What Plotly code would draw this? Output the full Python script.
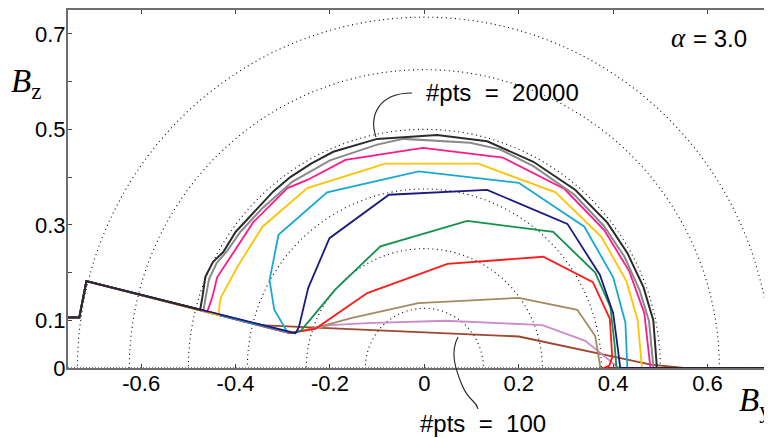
import plotly.graph_objects as go

# ---------------- data ----------------
common_x = [-0.760, -0.731, -0.716]
common_y = [0.106, 0.106, 0.182]

black_x = [-0.475, -0.470, -0.464, -0.448, -0.426, -0.400, -0.354, -0.320, -0.284, -0.240, -0.193, -0.100, 0.027, 0.133, 0.231, 0.320, 0.388, 0.430, 0.464, 0.485, 0.492, 0.492, 0.760]
black_y = [0.122, 0.150, 0.191, 0.222, 0.243, 0.285, 0.335, 0.370, 0.400, 0.428, 0.453, 0.480, 0.488, 0.475, 0.432, 0.373, 0.304, 0.241, 0.170, 0.100, 0.010, 0.000, 0.000]

gray_x = [-0.468, -0.463, -0.456, -0.440, -0.418, -0.390, -0.345, -0.280, -0.200, -0.100, -0.044, 0.097, 0.160, 0.231, 0.318, 0.380, 0.424, 0.456, 0.476, 0.484, 0.485, 0.760]
gray_y = [0.120, 0.150, 0.187, 0.220, 0.245, 0.285, 0.333, 0.390, 0.435, 0.468, 0.480, 0.472, 0.458, 0.423, 0.363, 0.298, 0.233, 0.163, 0.098, 0.015, 0.000, 0.000]

magenta_x = [-0.460, -0.452, -0.447, -0.439, -0.405, -0.362, -0.290, -0.248, -0.167, -0.003, 0.166, 0.297, 0.381, 0.434, 0.466, 0.478, 0.479, 0.760]
magenta_y = [0.118, 0.140, 0.157, 0.190, 0.241, 0.306, 0.377, 0.394, 0.436, 0.461, 0.441, 0.375, 0.289, 0.203, 0.115, 0.017, 0.000, 0.000]

yellow_x = [-0.436, -0.434, -0.431, -0.396, -0.343, -0.248, -0.136, -0.083, 0.114, 0.278, 0.375, 0.428, 0.452, 0.460, 0.461, 0.760]
yellow_y = [0.111, 0.132, 0.148, 0.212, 0.296, 0.377, 0.411, 0.428, 0.428, 0.368, 0.275, 0.182, 0.100, 0.020, 0.000, 0.000]

cyan_x = [-0.290, -0.318, -0.328, -0.309, -0.206, -0.012, 0.200, 0.339, 0.400, 0.426, 0.430, 0.430, 0.760]
cyan_y = [0.075, 0.122, 0.184, 0.279, 0.368, 0.412, 0.388, 0.296, 0.190, 0.095, 0.010, 0.000, 0.000]

navy_x = [-0.273, -0.266, -0.246, -0.201, -0.075, 0.133, 0.303, 0.372, 0.400, 0.410, 0.415, 0.760]
navy_y = [0.073, 0.085, 0.168, 0.272, 0.363, 0.373, 0.302, 0.195, 0.115, 0.040, 0.000, 0.000]

green_x = [-0.278, -0.262, -0.248, -0.189, -0.093, 0.091, 0.273, 0.362, 0.394, 0.403, 0.407, 0.760]
green_y = [0.073, 0.078, 0.094, 0.164, 0.255, 0.308, 0.285, 0.200, 0.128, 0.050, 0.000, 0.000]

red_x = [-0.285, -0.231, -0.121, 0.049, 0.252, 0.357, 0.393, 0.398, 0.392, 0.380, 0.760]
red_y = [0.073, 0.082, 0.157, 0.218, 0.233, 0.180, 0.103, 0.023, 0.005, 0.000, 0.000]

tan_x = [-0.285, -0.235, -0.153, -0.013, 0.200, 0.324, 0.362, 0.373, 0.760]
tan_y = [0.073, 0.083, 0.105, 0.136, 0.147, 0.122, 0.067, 0.000, 0.000]

plum_x = [-0.285, -0.199, -0.121, 0.045, 0.250, 0.341, 0.400, 0.412, 0.760]
plum_y = [0.073, 0.090, 0.094, 0.099, 0.090, 0.057, 0.010, 0.000, 0.000]

brown_x = [-0.350, 0.200, 0.420, 0.480, 0.550, 0.760]
brown_y = [0.090, 0.066, 0.019, 0.007, 0.000, 0.000]

circle_radii = [0.125, 0.25, 0.375, 0.5, 0.625, 0.735]

x_tick_vals = [-0.6, -0.4, -0.2, 0.0, 0.2, 0.4, 0.6]
x_tick_text = ["-0.6", "-0.4", "-0.2", "0", "0.2", "0.4", "0.6"]
y_tick_vals = [0.0, 0.1, 0.2, 0.3, 0.4, 0.5, 0.6, 0.7]
y_tick_text = ["0", "0.1", "", "0.3", "", "0.5", "", "0.7"]

# ---------------- figure ----------------
# The page body adds an 8 px offset; figure-space positions are page positions minus 8.
OFF = 8
W, H = 772, 438
ML, MT, MR, MB = 60, 2, 0, 78
X_RANGE = [-0.755, -0.755 + (W - ML - MR) / 472.0]
Y_RANGE = [0.0, 0.75]

series = [
    (brown_x, brown_y, "#a0452e", 1.8),
    (plum_x, plum_y, "#cc8ccc", 1.8),
    (tan_x, tan_y, "#a58a60", 1.8),
    (red_x, red_y, "#ff1a1a", 1.8),
    (green_x, green_y, "#13914b", 1.8),
    (cyan_x, cyan_y, "#17a9d1", 1.8),
    (yellow_x, yellow_y, "#ffc400", 1.8),
    (magenta_x, magenta_y, "#ff1a8c", 1.8),
    (gray_x, gray_y, "#8a8a8a", 2.0),
    (navy_x, navy_y, "#1a1a80", 1.8),
    (black_x, black_y, "#2b2b2b", 2.0),
]

fig = go.Figure()
for xs, ys, col, w in series:
    fig.add_trace(go.Scatter(
        x=common_x + xs, y=common_y + ys, mode="lines",
        line=dict(color=col, width=w), showlegend=False, hoverinfo="skip",
        cliponaxis=True))

shapes = []
for r in circle_radii:
    shapes.append(dict(type="circle", xref="x", yref="y", x0=-r, x1=r, y0=-r, y1=r,
                       line=dict(color="black", width=1.1, dash="1px,3.5px"), layer="below"))
# dotted diameter along y = 0
shapes.append(dict(type="line", xref="x", yref="y", x0=X_RANGE[0], x1=X_RANGE[1], y0=0, y1=0,
                   line=dict(color="black", width=1.2, dash="1px,2px"), layer="above"))

def px(X):
    return (X - OFF - ML) / (W - ML - MR)

def py(Y):
    return (H - MB - (Y - OFF)) / (H - MT - MB)

# leader line for #pts = 20000 (paper coords)
shapes.append(dict(type="path", xref="paper", yref="paper",
                   path=f"M {px(412)},{py(93)} C {px(378)},{py(93)} {px(369)},{py(116)} {px(376)},{py(137)}",
                   line=dict(color="#222222", width=1.1)))
# leader line for #pts = 100
shapes.append(dict(type="path", xref="paper", yref="paper",
                   path=f"M {px(458)},{py(337)} C {px(450)},{py(352)} {px(455)},{py(368)} {px(462)},{py(385)} S {px(476)},{py(400)} {px(478)},{py(409)}",
                   line=dict(color="#222222", width=1.1)))

NB = "\u00a0"
annotations = [
    dict(x=px(424), y=py(93), xref="paper", yref="paper", xanchor="left", yanchor="middle",
         text=f"#pts{NB}{NB}={NB}{NB}20000", showarrow=False,
         font=dict(family="Liberation Sans", size=24, color="black")),
    dict(x=px(418), y=py(423), xref="paper", yref="paper", xanchor="left", yanchor="middle",
         text=f"#pts{NB}{NB}={NB}{NB}100", showarrow=False,
         font=dict(family="Liberation Sans", size=24, color="black")),
    dict(x=px(669), y=py(38), xref="paper", yref="paper", xanchor="left", yanchor="middle",
         text="<i>α</i>", showarrow=False,
         font=dict(family="Liberation Serif", size=27, color="black")),
    dict(x=px(691), y=py(38), xref="paper", yref="paper", xanchor="left", yanchor="middle",
         text=f"={NB}3.0", showarrow=False,
         font=dict(family="Liberation Sans", size=24, color="black")),
    dict(x=px(9), y=py(84), xref="paper", yref="paper", xanchor="left", yanchor="middle",
         text="<i>B</i><sub>z</sub>", showarrow=False,
         font=dict(family="Liberation Serif", size=33, color="black")),
    dict(x=px(737), y=py(402), xref="paper", yref="paper", xanchor="left", yanchor="middle",
         text="<i>B</i><sub>y</sub>", showarrow=False,
         font=dict(family="Liberation Serif", size=33, color="black")),
]

fig.update_layout(
    width=W, height=H,
    margin=dict(l=ML, r=MR, t=MT, b=MB, pad=0),
    paper_bgcolor="white", plot_bgcolor="white",
    shapes=shapes, annotations=annotations,
    xaxis=dict(range=X_RANGE, tickvals=x_tick_vals, ticktext=x_tick_text,
               ticks="inside", ticklen=4, tickwidth=1, tickcolor="#444444",
               showline=True, linecolor="#6e6e6e", linewidth=2, mirror="ticks",
               showgrid=False, zeroline=False, ticklabelstandoff=-5,
               tickfont=dict(family="Liberation Sans", size=22, color="black")),
    yaxis=dict(range=Y_RANGE, tickvals=y_tick_vals, ticktext=y_tick_text,
               ticks="inside", ticklen=4, tickwidth=1, tickcolor="#444444",
               showline=True, linecolor="#6e6e6e", linewidth=2,
               showgrid=False, zeroline=False, ticklabelstandoff=-4,
               tickfont=dict(family="Liberation Sans", size=22, color="black")),
)

fig.write_html("out.html")
